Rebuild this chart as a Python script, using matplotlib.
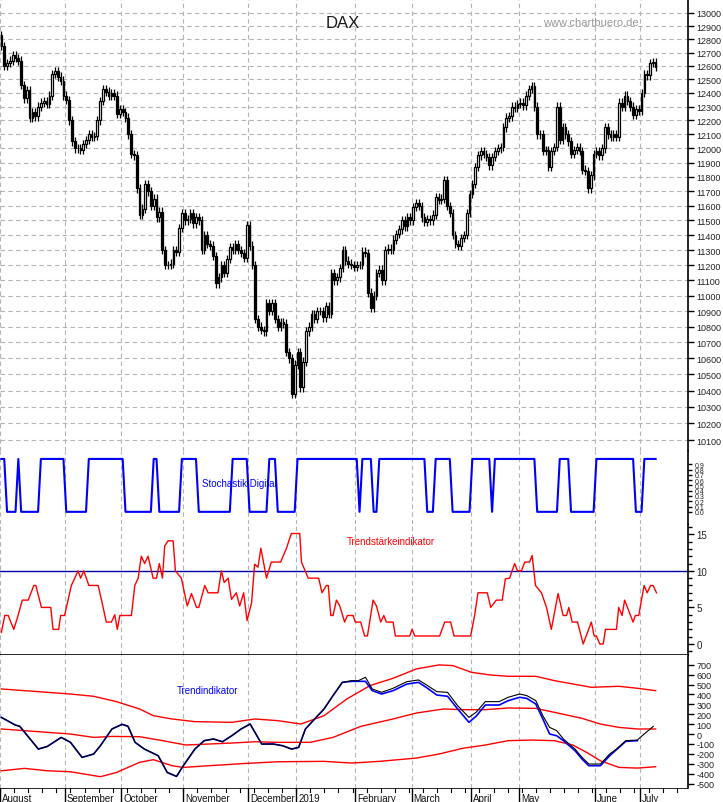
import numpy as np
import matplotlib
matplotlib.use("Agg")
import matplotlib.pyplot as plt
from matplotlib.ticker import FixedLocator, MultipleLocator

plt.rcParams['font.family'] = ['Liberation Sans', 'DejaVu Sans']

# ---------------- data ----------------
closes = [12750,12600,12620,12640,12680,12660,12640,12460,12360,12420,
          12220,12260,12230,12300,12330,12340,12320,12380,12540,12560,
          12520,12490,12380,12350,12200,12050,12000,12000,11990,12030,
          12060,12100,12080,12090,12200,12340,12430,12410,12380,12400,
          12380,12250,12280,12260,12220,12100,11960,11950,11720,11540,
          11580,11750,11700,11600,11650,11520,11560,11300,11200,11200,
          11210,11300,11290,11450,11550,11500,11510,11550,11480,11520,
          11500,11300,11400,11340,11330,11260,11080,11120,11200,11150,
          11240,11320,11300,11340,11300,11280,11250,11470,11330,11200,
          10850,10800,10780,10770,10950,10900,10950,10850,10800,10830,
          10820,10640,10600,10380,10560,10640,10420,10580,10770,10800,
          10880,10850,10900,10900,10860,10930,10880,11150,11100,11120,
          11180,11300,11230,11210,11200,11190,11200,11200,11290,11280,
          11020,10920,11000,11150,11170,11100,11300,11310,11300,11370,
          11410,11440,11500,11460,11520,11500,11590,11620,11600,11520,
          11490,11510,11500,11540,11660,11640,11650,11780,11600,11550,
          11400,11340,11330,11380,11400,11550,11680,11750,11870,11950,
          11980,11960,11940,11880,11940,11980,12000,12010,12150,12220,
          12230,12300,12290,12320,12330,12310,12380,12430,12450,12300,
          12100,12100,11980,11990,11870,11980,12010,12300,12060,12150,
          12100,12050,11960,11990,12010,11980,11850,11840,11720,11810,
          11960,11980,11950,12000,12150,12100,12080,12100,12080,12330,
          12300,12380,12340,12300,12240,12280,12270,12400,12540,12530,
          12620,12630,12590]
first_open = 12830

month_days = [0, 23, 43, 65, 88, 105, 126, 146, 167, 184, 211, 227]
month_labels = ["August", "September", "October", "November", "December", "2019",
                "February", "March", "April", "May", "June", "July"]

stoch_low_intervals = [(2,5),(7,13),(23,30),(44,53),(56,63),(70,81),(88,94),(98,104),
                       (127,127),(132,133),(151,153),(160,166),(174,174),(190,197),
                       (202,210),(225,227)]

ts_day = [0,1.2,2.4,4.4,5.9,7.4,9.5,11.5,12.2,14.2,17.5,18.3,20.3,21,22.4,24.8,27.2,28.1,29.2,
          31,34.3,35.5,37.2,39,40.2,41.1,42,46.1,47.3,48.5,49.6,50.8,52,53.8,55,56,57.1,57.9,
          59.1,60.9,61.7,63.8,65.9,67.4,69.2,70,72.1,73.3,76.8,78,79,80.4,
          81.6,83.3,84.5,85.9,87.1,88.7,89.8,91,92,94,95.7,99,101.1,102.8,105.8,106.4,108.8,
          112.5,113.7,115.2,115.9,116.8,117.6,118.8,120,121.7,122.7,124.7,125.5,127.4,128.8,
          129.8,131.8,133,134.5,135.6,136.5,138.9,139.7,144.8,145.6,146.6,155.4,157.2,159.3,
          160.5,163.1,166.4,167.8,169,172.3,173.5,175.5,177.6,178.7,180.2,182,183,184.4,185.6,
          187.3,188.2,189.4,191.5,193.3,195,197.4,199.2,200.4,201.2,202.4,204.3,206.3,209.2,
          210.2,211,212.2,213.4,214.2,218.1,218.9,220.1,221,224,224.8,226,227.9,229,230.2,
          231.1,232.3]
ts_val = [1.6,3.9,3.9,2,3.9,6,6,8,8,5,5,2,2,3.9,3.9,8,10,9,10,
          8,8,6,3,3,4,2,3.9,3.9,8,9,12,11,12,9,9,11,9,13.4,
          14.1,14.1,10,9,5.2,6.9,5,5,8,7,7,10,8.4,9,
          6.1,7,5.2,7,3.2,5.6,10.9,10.5,13.1,9,11.2,11.2,13.1,15.1,15.1,11.2,9,
          9,7,8,8,3.9,3.9,6,5.2,3,3.9,3.9,3,3,1.1,
          1.1,6,5.2,3,3.9,3,3,1.1,1.1,2,1.1,1.1,3,3,
          1.1,1.1,1.1,3.9,7,7,5,6,6,8.9,9,11,10,10,11.2,
          11.2,12.1,8,7,5,2,6.9,3.9,3.9,5,3,3,0,3,
          1.1,1.1,0,0,2,2,5,3.9,6,3,3.9,3.9,8,7,8,
          8,7]

ti_day = [0,4.9,6.5,13.1,16.3,21.2,24.5,28.6,32.7,35.1,39.2,42.8,44.9,47.4,50.7,55.6,58.8,
          62.1,64.5,68.6,71.9,75.2,78.4,81.7,85,88.2,89.9,92.3,96.4,99.7,102.9,105.4,107.8,
          111.1,114.4,117.6,120.9,124.2,126.6,129.1,131.5,134.8,138.9,143.8,147.9,151.1,154.4,
          158.2,161.8,165.8,168.3,171.6,176.5,179.7,183.8,186.3,189.5,192,194.4,196.9,199.3,
          203.4,205.9,208.3,212.4,215.7,218.1,221.4,225.5,227.9,231.2]
ti_black = [168,91,78,-152,-125,-34,-84,-236,-202,-118,51,98,78,-84,-152,-219,-388,
            -428,-320,-152,-67,-50,-78,-17,51,101,17,-101,-101,-118,-152,-135,51,
            152,253,388,522,539,539,573,455,421,462,529,546,489,428,
            421,286,168,219,327,327,371,404,388,337,185,67,34,-50,
            -152,-236,-303,-303,-202,-152,-67,-61,0,78]
ti_blue_day = ti_day[:-2]
ti_blue = [168,91,78,-152,-125,-34,-84,-236,-202,-118,51,98,78,-84,-152,-219,-388,
           -428,-320,-152,-67,-50,-78,-17,51,101,17,-101,-101,-118,-152,-135,51,
           152,253,388,522,532,532,532,438,404,438,505,522,462,394,
           381,253,118,179,293,293,337,371,360,303,152,0,-17,-67,
           -168,-253,-320,-320,-219,-158,-74,-67]

up_day = [0,16.3,24.5,32.7,40.8,49,53.9,60.5,68.6,81.7,89.9,98,106.2,114.4,122.5,130.7,138.9,
          147.1,155.2,160.1,166.7,173.2,179.7,189.5,196.1,209.2,219,225.5,232]
up_val = [455,421,404,381,327,253,185,152,125,118,152,135,101,185,354,489,563,657,698,691,
          623,597,583,583,539,472,482,462,438]
mid_day = [0,16.3,24.5,32.7,39.2,49,57.2,65.4,73.5,81.7,89.9,98,109.5,117.6,127.5,138.9,147.1,
           156.9,163.4,171.6,179.7,189.5,196.1,205.9,212.4,219,225.5,232]
mid_val = [51,17,0,-34,-24,-27,-67,-111,-101,-91,-78,-84,-84,-34,78,152,212,253,246,246,263,
           259,219,158,101,67,51,51]
low_day = [0,8.2,16.3,24.5,35.1,40.8,49,53.9,60.5,64.5,73.5,86.6,98,114.4,124.2,134,147.1,
           155.2,163.4,171.6,179.7,187.9,196.1,202.6,207.5,212.4,219,225.5,232]
low_val = [-371,-347,-371,-381,-431,-388,-286,-259,-320,-337,-320,-297,-280,-276,-293,-276,
           -243,-202,-145,-111,-67,-61,-67,-111,-185,-270,-337,-344,-330]

# ---------------- figure ----------------
fig = plt.figure(figsize=(7.23, 8.03), dpi=100)
R = 688 / 723.0
TICKFONT = ['Liberation Sans', 'DejaVu Sans']

def ax_at(top_px, bot_px):
    return fig.add_axes([0, 1 - bot_px / 803.0, R, (bot_px - top_px) / 803.0])

XL = (-0.5, 688 / 2.82 - 0.5)
grid_kw = dict(color='#b4b4b4', ls=(0, (4, 3)), lw=0.8)

ax1 = ax_at(0, 452)
ax2 = ax_at(452, 525)
ax3 = ax_at(525, 656)
ax4 = ax_at(656, 789)

def style_labels(ax, size):
    for lab in ax.get_yticklabels():
        lab.set_fontfamily(TICKFONT)
        lab.set_fontsize(size)

for ax in (ax1, ax2, ax3, ax4):
    ax.set_xlim(*XL)
    for s in ('top', 'left', 'bottom'):
        ax.spines[s].set_visible(False)
    ax.spines['right'].set_linewidth(1.2)
    ax.yaxis.tick_right()
    ax.tick_params(axis='y', length=4, width=1, pad=2, labelcolor='#222222')
    ax.set_xticks([])
    for d in month_days:
        ax.axvline(d - 0.5, **grid_kw, zorder=0)

# price panel (log)
n = len(closes)
days = np.arange(n)
c = np.array(closes, float)
o = np.concatenate([[first_open], c[:-1]])
hi = np.maximum(o, c) * 1.0025
lo = np.minimum(o, c) * 0.9975
ax1.set_yscale('log')
ax1.set_ylim(10035, 13108)
ticks = list(range(10100, 13001, 100))
ax1.yaxis.set_major_locator(FixedLocator(ticks))
ax1.yaxis.set_minor_locator(FixedLocator([]))
ax1.set_yticklabels([str(t) for t in ticks])
style_labels(ax1, 6.5)
for t in ticks:
    ax1.axhline(t, **grid_kw, zorder=0)
ax1.vlines(days, lo, hi, color='black', lw=0.9, zorder=2)
up = c >= o
ax1.bar(days[up], (c - o)[up], bottom=o[up], width=0.6, color='white', edgecolor='black', lw=0.9, zorder=3)
ax1.bar(days[~up], (o - c)[~up], bottom=c[~up], width=0.6, color='black', edgecolor='black', lw=0.9, zorder=3)
ax1.text(121, 12930, "DAX", fontsize=12, color='#1a1a1a', ha='center', va='center')
ax1.text(209, 12930, "www.chartbuero.de", fontsize=8, color='#999999', ha='center', va='center')

# stochastic digital
st = np.ones(n)
for a, b in stoch_low_intervals:
    st[a:b + 1] = 0
ax2.plot(days, st, color='#0000ff', lw=1.5)
ax2.set_ylim(-0.23, 1.15)
ax2.yaxis.set_major_locator(FixedLocator([round(0.1 * i, 1) for i in range(10)]))
ax2.set_yticklabels([f"{0.1 * i:.1f}" for i in range(10)])
ax2.tick_params(axis='y', length=3)
style_labels(ax2, 5)
ax2.text(84.5, 0.55, "Stochastik Digital", fontsize=7, color='#0000ff', ha='center', va='center')

# trend strength
ax3.set_ylim(-1.5, 16.4)
ax3.axhline(10, color='#0000aa', lw=1)
ax3.plot(ts_day, ts_val, color='#ff0000', lw=1)
ax3.yaxis.set_major_locator(FixedLocator([0, 5, 10, 15]))
ax3.yaxis.set_minor_locator(MultipleLocator(1))
ax3.tick_params(axis='y', which='minor', length=3, width=1)
style_labels(ax3, 7)
ax3.text(138, 14.1, "Trendstärkeindikator", fontsize=7, color='#ff0000', ha='center', va='center')
ax3.spines['bottom'].set_visible(True)
ax3.spines['bottom'].set_linewidth(1.2)

# trend indicator
ax4.set_ylim(-545, 798)
ax4.plot(up_day, up_val, color='#ff0000', lw=1)
ax4.plot(mid_day, mid_val, color='#ff0000', lw=1)
ax4.plot(low_day, low_val, color='#ff0000', lw=1)
ax4.plot(ti_blue_day, ti_blue, color='#0000ff', lw=1.2)
ax4.plot(ti_day, ti_black, color='black', lw=0.8)
tv = list(range(-500, 701, 100))
ax4.yaxis.set_major_locator(FixedLocator(tv))
ax4.set_yticklabels([str(t) for t in tv])
style_labels(ax4, 6.5)
ax4.text(73, 440, "Trendindikator", fontsize=7, color='#0000ff', ha='center', va='center')

# bottom time axis
axb = ax_at(789, 803)
axb.set_xlim(*XL)
axb.set_ylim(0, 1)
axb.axis('off')
axb.axhline(1, color='black', lw=1.2)
for d in range(0, 245, 5):
    axb.plot([d - 0.5, d - 0.5], [1, 0.75], color='black', lw=0.8)
for d, lab in zip(month_days, month_labels):
    axb.plot([d - 0.5, d - 0.5], [1, 0.0], color='black', lw=1)
    axb.text(d + 0.2, 0.3, lab, fontsize=7, ha='left', va='center', color='#111111',
             fontfamily=TICKFONT)

fig.savefig("out.png", dpi=100)
